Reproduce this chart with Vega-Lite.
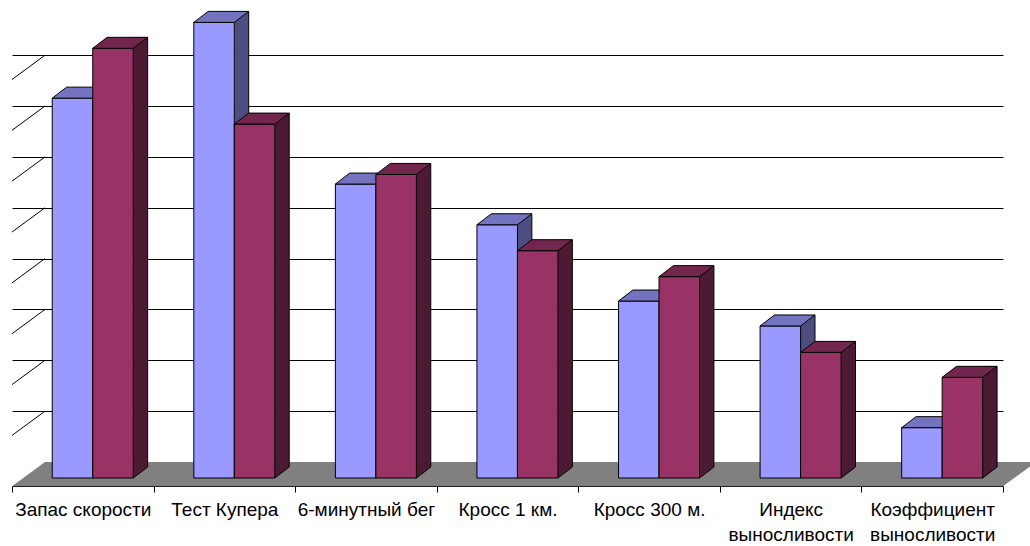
{
  "$schema": "https://vega.github.io/schema/vega-lite/v6.json",
  "width": 985,
  "height": 462,
  "autosize": "none",
  "padding": {"left": 45, "top": 0, "right": 0, "bottom": 84},
  "background": "white",
  "config": {
    "view": {"stroke": null},
    "axisX": {
      "offset": 24,
      "tickBand": "extent",
      "tickSize": 6,
      "tickColor": "black",
      "tickWidth": 1,
      "domainColor": "black",
      "domainWidth": 1,
      "grid": false,
      "labelFont": "Liberation Sans",
      "labelFontSize": 19,
      "labelColor": "black",
      "labelAngle": 0,
      "labelPadding": 8,
      "labelLineHeight": 25,
      "labelBaseline": "top",
      "labelOverlap": false,
      "labelLimit": 300,
      "labelExpr": "length(datum.label) > 16 ? split(datum.label, ' ') : datum.label"
    },
    "axisY": {
      "grid": true,
      "gridColor": "black",
      "gridWidth": 1,
      "gridOpacity": 1,
      "ticks": false,
      "labels": false,
      "domain": false
    }
  },
  "datasets": {
    "bars": [
      {"category": "Запас скорости", "series": "Ряд 1", "value": 7.47},
      {"category": "Запас скорости", "series": "Ряд 2", "value": 8.45},
      {"category": "Тест Купера", "series": "Ряд 1", "value": 8.96},
      {"category": "Тест Купера", "series": "Ряд 2", "value": 6.96},
      {"category": "6-минутный бег", "series": "Ряд 1", "value": 5.78},
      {"category": "6-минутный бег", "series": "Ряд 2", "value": 5.97},
      {"category": "Кросс 1 км.", "series": "Ряд 1", "value": 4.98},
      {"category": "Кросс 1 км.", "series": "Ряд 2", "value": 4.47},
      {"category": "Кросс 300 м.", "series": "Ряд 1", "value": 3.48},
      {"category": "Кросс 300 м.", "series": "Ряд 2", "value": 3.96},
      {"category": "Индекс выносливости", "series": "Ряд 1", "value": 2.99},
      {"category": "Индекс выносливости", "series": "Ряд 2", "value": 2.47},
      {"category": "Коэффициент выносливости", "series": "Ряд 1", "value": 0.99},
      {"category": "Коэффициент выносливости", "series": "Ряд 2", "value": 1.98}
    ],
    "levels": [
      {"level": 1}, {"level": 2}, {"level": 3}, {"level": 4},
      {"level": 5}, {"level": 6}, {"level": 7}, {"level": 8}
    ],
    "floor": [{"category": "Запас скорости"}]
  },
  "layer": [
    {
      "data": {"name": "floor"},
      "mark": {
        "type": "point",
        "shape": "M-7.079,2.43 L92.021,2.43 L95.321,0 L-3.779,0 Z",
        "size": 400,
        "filled": true,
        "fill": "#808080",
        "stroke": null,
        "strokeWidth": 0,
        "opacity": 1
      },
      "encoding": {
        "x": {
          "field": "category",
          "type": "nominal",
          "sort": null,
          "title": null,
          "scale": {
            "domain": ["Запас скорости", "Тест Купера", "6-минутный бег", "Кросс 1 км.", "Кросс 300 м.", "Индекс выносливости", "Коэффициент выносливости"],
            "range": [-33, 958],
            "paddingInner": 0,
            "paddingOuter": 0
          }
        },
        "y": {
          "datum": 0,
          "type": "quantitative",
          "title": null,
          "scale": {"domain": [0, 8.5], "range": [462, 29.775], "nice": false, "zero": true}
        }
      }
    },
    {
      "data": {"name": "levels"},
      "mark": {
        "type": "point",
        "shape": "M0,0 L-3.3,2.43",
        "size": 400,
        "filled": false,
        "fill": null,
        "stroke": "black",
        "strokeWidth": 1,
        "opacity": 1,
        "xOffset": -37.79
      },
      "encoding": {
        "x": {"datum": "Запас скорости", "type": "nominal", "title": null},
        "y": {"field": "level", "type": "quantitative", "title": null, "axis": {"values": [1, 2, 3, 4, 5, 6, 7, 8]}}
      }
    },
    {
      "data": {"name": "bars"},
      "transform": [{"filter": "datum.series == 'Ряд 1'"}],
      "layer": [
        {
          "mark": {"type": "bar", "width": 14.4, "xOffset": 17.15, "yOffset": 5, "y2Offset": 5, "fill": "#4D4D80", "strokeWidth": 0},
          "encoding": {
            "x": {"field": "category", "type": "nominal", "title": null},
            "y": {"field": "value", "type": "quantitative", "title": null},
            "y2": {"datum": 0}
          }
        },
        {
          "mark": {"type": "point", "shape": "M0,0 L0,-1.1 L1.44,-1.1 Z", "size": 400, "filled": true, "fill": "#4D4D80", "strokeWidth": 0, "opacity": 1, "xOffset": 9.95, "yOffset": 16},
          "encoding": {
            "x": {"field": "category", "type": "nominal", "title": null},
            "y": {"datum": 0, "type": "quantitative", "title": null}
          }
        },
        {
          "mark": {"type": "point", "shape": "M0,0 L1.44,-1.1", "size": 400, "filled": false, "fill": null, "stroke": "black", "strokeWidth": 1, "opacity": 1, "xOffset": 9.95, "yOffset": 16},
          "encoding": {
            "x": {"field": "category", "type": "nominal", "title": null},
            "y": {"datum": 0, "type": "quantitative", "title": null}
          }
        },
        {
          "mark": {"type": "rule", "color": "black", "strokeWidth": 1, "xOffset": 24.35, "yOffset": 5, "y2Offset": 5},
          "encoding": {
            "x": {"field": "category", "type": "nominal", "title": null},
            "y": {"field": "value", "type": "quantitative", "title": null},
            "y2": {"datum": 0}
          }
        },
        {
          "mark": {"type": "bar", "width": 40.5, "xOffset": -10.3, "yOffset": 16, "y2Offset": 16, "fill": "#9999FF", "stroke": "black", "strokeWidth": 1},
          "encoding": {
            "x": {"field": "category", "type": "nominal", "title": null},
            "y": {"field": "value", "type": "quantitative", "title": null},
            "y2": {"datum": 0}
          }
        },
        {
          "mark": {"type": "point", "shape": "M0,0 L4.05,0 L5.49,-1.1 L1.44,-1.1 Z", "size": 400, "filled": true, "fill": "#7373BF", "stroke": "black", "strokeWidth": 1, "opacity": 1, "xOffset": -30.55, "yOffset": 16},
          "encoding": {
            "x": {"field": "category", "type": "nominal", "title": null},
            "y": {"field": "value", "type": "quantitative", "title": null}
          }
        }
      ]
    },
    {
      "data": {"name": "bars"},
      "transform": [{"filter": "datum.series == 'Ряд 2'"}],
      "layer": [
        {
          "mark": {"type": "bar", "width": 14.4, "xOffset": 57.65, "yOffset": 5, "y2Offset": 5, "fill": "#4D1A33", "strokeWidth": 0},
          "encoding": {
            "x": {"field": "category", "type": "nominal", "title": null},
            "y": {"field": "value", "type": "quantitative", "title": null},
            "y2": {"datum": 0}
          }
        },
        {
          "mark": {"type": "point", "shape": "M0,0 L0,-1.1 L1.44,-1.1 Z", "size": 400, "filled": true, "fill": "#4D1A33", "strokeWidth": 0, "opacity": 1, "xOffset": 50.45, "yOffset": 16},
          "encoding": {
            "x": {"field": "category", "type": "nominal", "title": null},
            "y": {"datum": 0, "type": "quantitative", "title": null}
          }
        },
        {
          "mark": {"type": "point", "shape": "M0,0 L1.44,-1.1", "size": 400, "filled": false, "fill": null, "stroke": "black", "strokeWidth": 1, "opacity": 1, "xOffset": 50.45, "yOffset": 16},
          "encoding": {
            "x": {"field": "category", "type": "nominal", "title": null},
            "y": {"datum": 0, "type": "quantitative", "title": null}
          }
        },
        {
          "mark": {"type": "rule", "color": "black", "strokeWidth": 1, "xOffset": 64.85, "yOffset": 5, "y2Offset": 5},
          "encoding": {
            "x": {"field": "category", "type": "nominal", "title": null},
            "y": {"field": "value", "type": "quantitative", "title": null},
            "y2": {"datum": 0}
          }
        },
        {
          "mark": {"type": "bar", "width": 40.5, "xOffset": 30.2, "yOffset": 16, "y2Offset": 16, "fill": "#993366", "stroke": "black", "strokeWidth": 1},
          "encoding": {
            "x": {"field": "category", "type": "nominal", "title": null},
            "y": {"field": "value", "type": "quantitative", "title": null},
            "y2": {"datum": 0}
          }
        },
        {
          "mark": {"type": "point", "shape": "M0,0 L4.05,0 L5.49,-1.1 L1.44,-1.1 Z", "size": 400, "filled": true, "fill": "#73264D", "stroke": "black", "strokeWidth": 1, "opacity": 1, "xOffset": 9.95, "yOffset": 16},
          "encoding": {
            "x": {"field": "category", "type": "nominal", "title": null},
            "y": {"field": "value", "type": "quantitative", "title": null}
          }
        }
      ]
    }
  ]
}
